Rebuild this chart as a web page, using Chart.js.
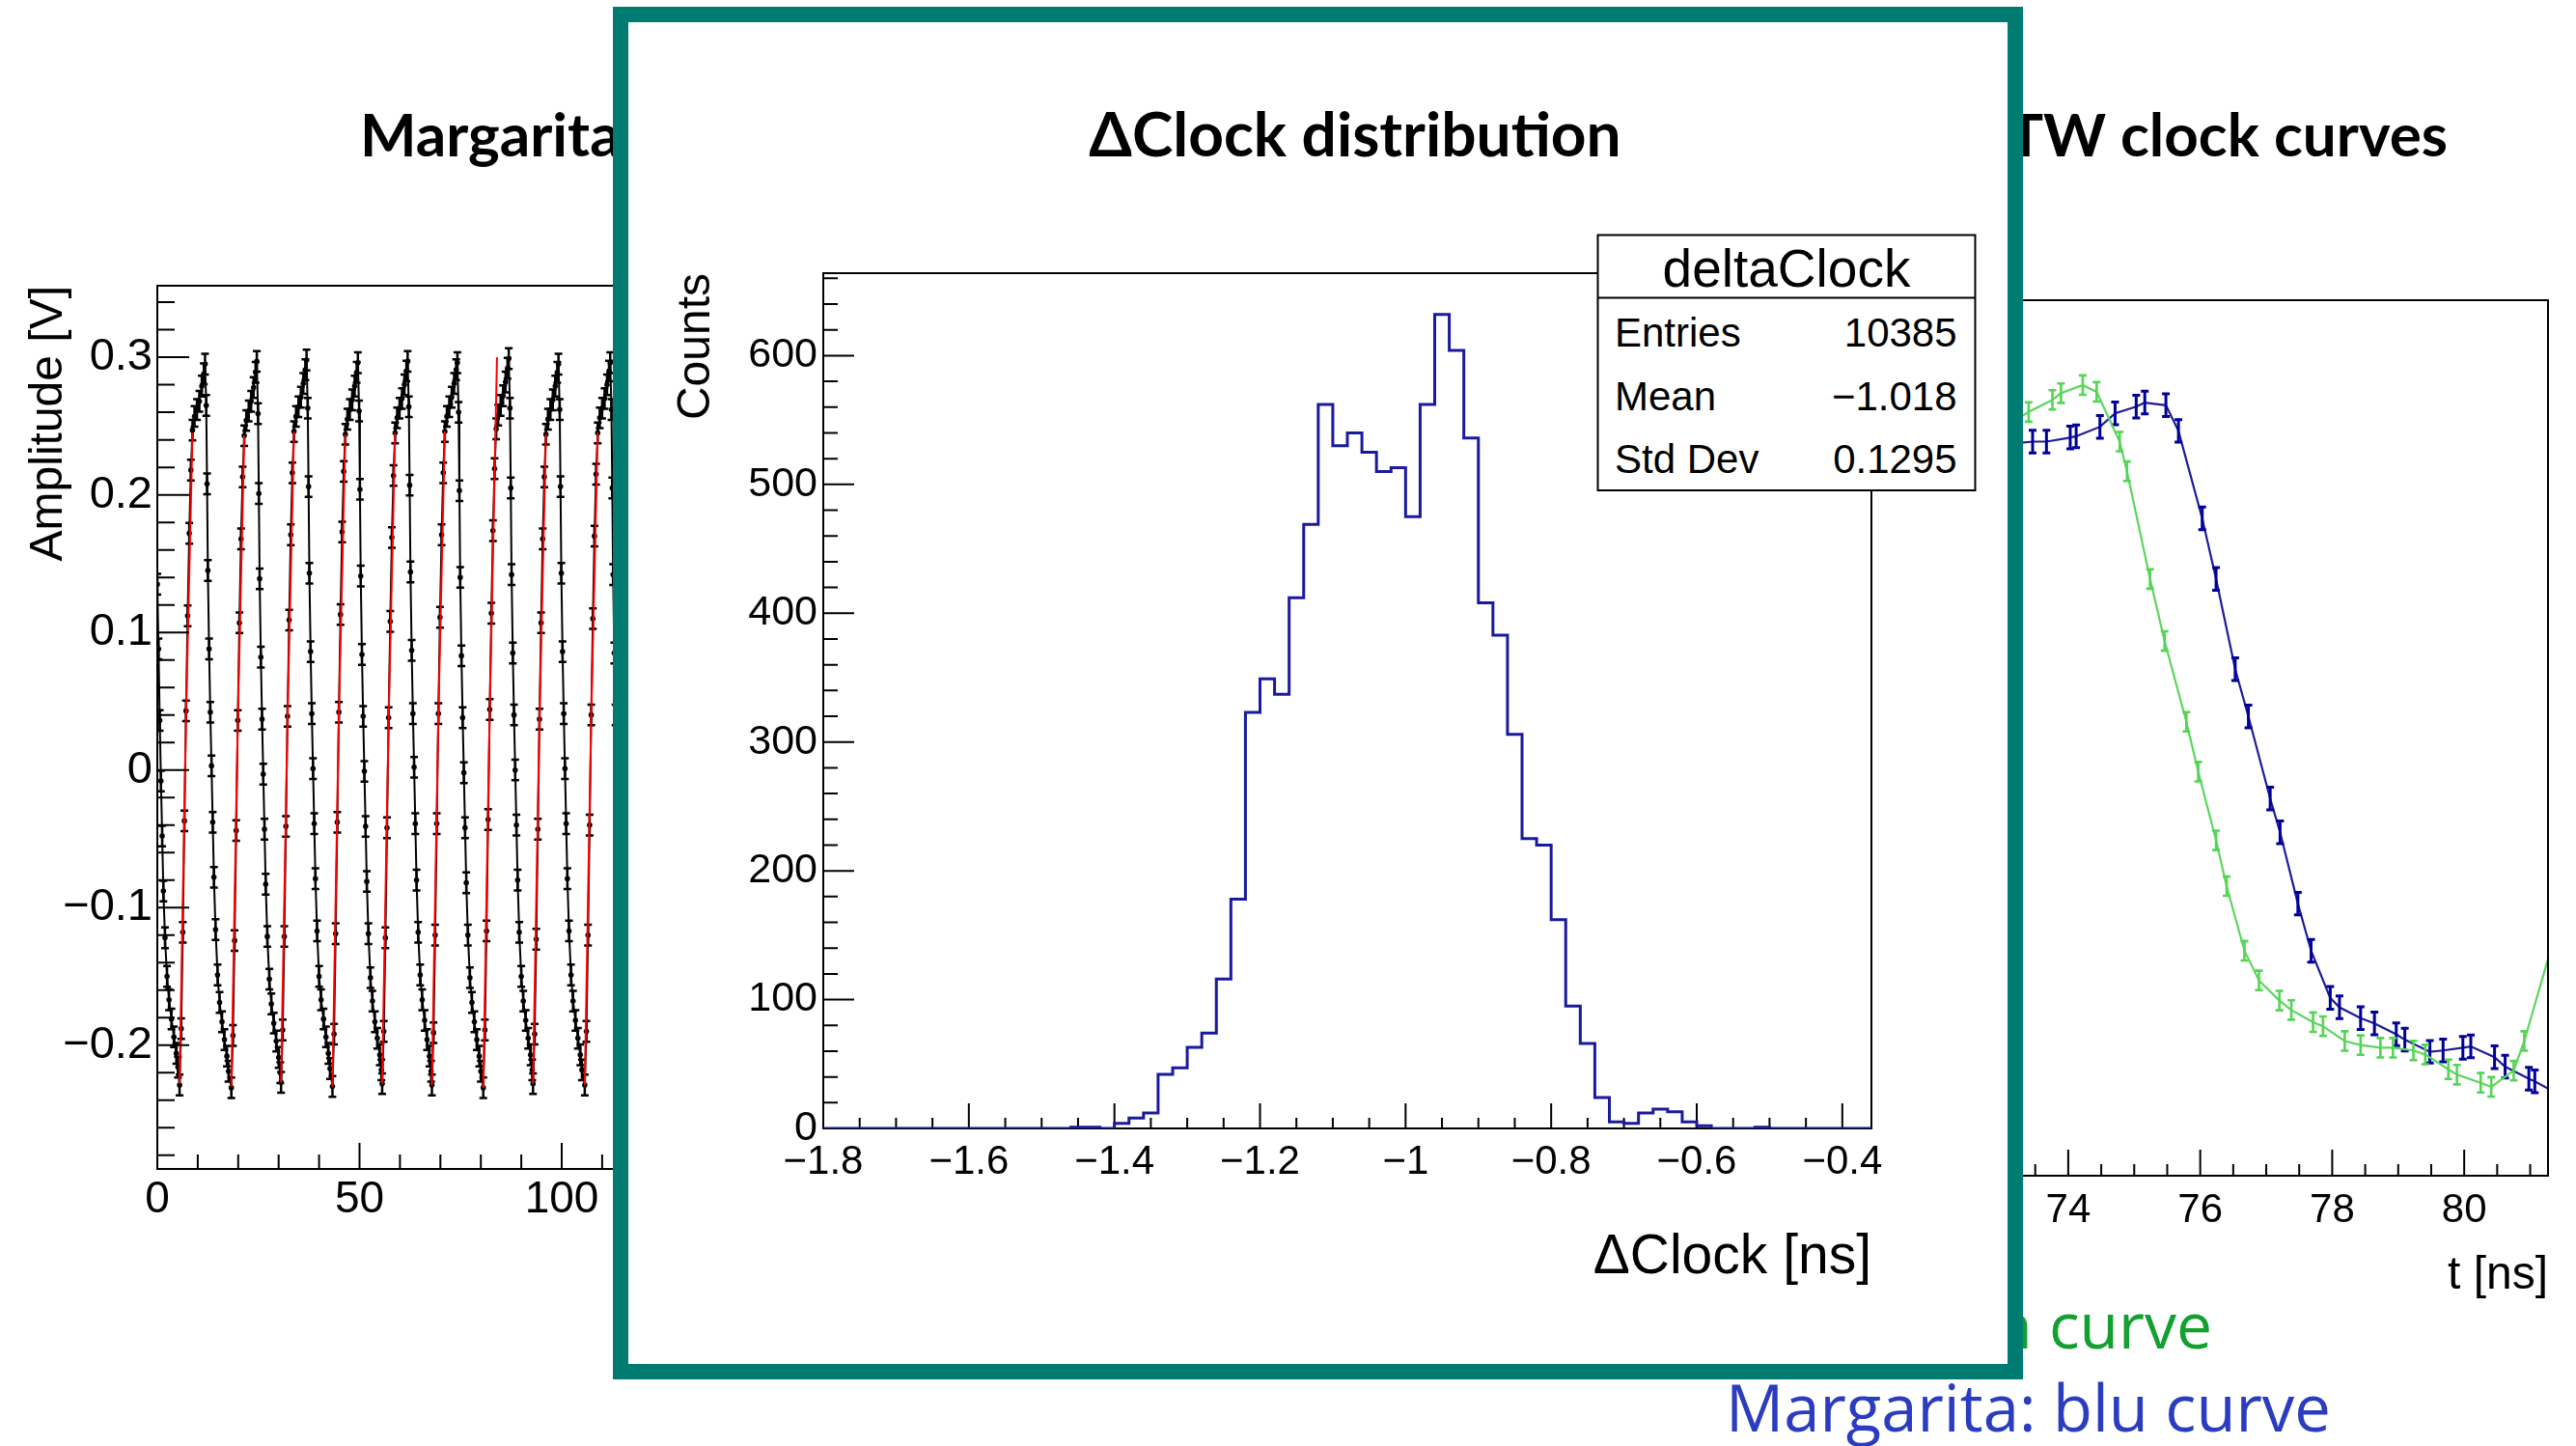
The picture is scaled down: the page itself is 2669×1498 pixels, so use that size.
<!DOCTYPE html>
<html>
<head>
<meta charset="utf-8">
<title>ΔClock distribution</title>
<script src="https://cdn.jsdelivr.net/npm/chart.js@4.4.1/dist/chart.umd.min.js"></script>
<style>
  html, body { margin:0; padding:0; background:#fff; }
  body { width:2669px; height:1498px; position:relative; overflow:hidden; }
  .abs { position:absolute; }
  #tealBox { left:635px; top:7px; width:1461px; height:1422px; box-sizing:border-box; border:16px solid #007B72; background:#fff; z-index:3; }
</style>
</head>
<body>
<svg class="abs" id="slideText" width="2669" height="1498" style="left:0;top:0;z-index:1">
  <text x="373" y="162" font-family="Lato, 'Open Sans', sans-serif" font-weight="700" font-size="62" fill="#000">Margarita</text>
  <text x="2536" y="162" text-anchor="end" font-family="Lato, 'Open Sans', sans-serif" font-weight="700" font-size="62" fill="#000">TW clock curves</text>
  <text x="2292" y="1397" text-anchor="end" font-family="'Open Sans', Lato, sans-serif" font-size="66" fill="#12a02e">green curve</text>
  <text x="1788" y="1483" font-family="'Open Sans', Lato, sans-serif" font-size="67" fill="#2a3cbf">Margarita: blu curve</text>
</svg>
<canvas class="abs" id="cLeft" width="1100" height="1330" style="left:0;top:0;z-index:2"></canvas>
<canvas class="abs" id="cRight" width="969" height="1498" style="left:1700px;top:0;z-index:2"></canvas>
<div class="abs" id="tealBox"></div>
<canvas class="abs" id="cCenter" width="1506" height="1390" style="left:651px;top:23px;z-index:4"></canvas>
<svg class="abs" id="statsBox" width="2669" height="1498" style="left:0;top:0;z-index:5"></svg>

<script>
// ======================= DATA =======================
// --- centre: ΔClock histogram (bins of 0.02 ns starting at -1.80) ---
const histMin = -1.8;
const histMax = -0.36;
const binWidth = 0.02;
const deltaClockCounts = [
  0, 0, 0, 0, 0, 0, 0, 0, 0, 0,               // -1.80 .. -1.62
  0, 0, 0, 0, 0, 0, 0, 1, 1, 0,               // -1.60 .. -1.42
  4, 8, 12, 42, 47, 63, 74, 116, 178, 323,    // -1.40 .. -1.22
  349, 337, 412, 469, 562, 530, 540, 525, 510, 513, // -1.20 .. -1.02
  475, 562, 632, 604, 536, 408, 383, 306, 225, 220, // -1.00 .. -0.82
  162, 95, 66, 24, 5, 4, 12, 15, 13, 5,       // -0.80 .. -0.62
  2, 0, 0, 0, 1, 0, 0, 0, 0, 0,               // -0.60 .. -0.42
  0, 0                                        // -0.40 .. -0.38
];
const centerXTicks = [-1.8, -1.6, -1.4, -1.2, -1.0, -0.8, -0.6, -0.4];
const centerYTicks = [0, 100, 200, 300, 400, 500, 600];
const statsTitle = 'deltaClock';
const statsLabels = ['Entries', 'Mean', 'Std Dev'];
const statsValues = ['10385', '\u22121.018', '0.1295'];

// --- left: Margarita clock waveform (t in ns, amplitude in V) ---
const waveHeadT = [0, 0.3, 0.6, 0.9, 1.2, 1.5, 1.9, 2.4, 2.9, 3.5, 4.1, 4.7, 5.1];
const waveHeadV = [0.135, 0.088, 0.036, -0.008, -0.048, -0.088, -0.122, -0.150, -0.167, -0.181, -0.194, -0.206, -0.216];
const waveRiseStart = [5.5, 18.3, 30.6, 43.3, 55.6, 67.9, 80.6, 92.9, 105.7];
const wavePhase = [0, 0.4, 0.8, 1.2, 1.6, 2.0, 2.4, 2.8, 3.2, 3.7, 4.3, 4.9, 5.5, 6.0, 6.3, 6.6, 6.8, 7.0, 7.3, 7.6, 7.9, 8.2, 8.5, 8.9, 9.4, 9.9, 10.5, 11.1, 11.7, 12.1];
const waveV = [
  [-0.229,-0.188,-0.118,-0.037,0.043,0.112,0.172,0.218,0.247,0.257,0.262,0.268,0.279,0.288,0.295,0.265,0.208,0.145,0.088,0.042,0.003,-0.038,-0.078,-0.116,-0.149,-0.169,-0.183,-0.196,-0.208,-0.219],
  [-0.231,-0.193,-0.124,-0.044,0.036,0.107,0.168,0.213,0.243,0.254,0.261,0.268,0.278,0.289,0.297,0.259,0.201,0.139,0.082,0.037,-0.003,-0.043,-0.083,-0.121,-0.152,-0.170,-0.184,-0.197,-0.209,-0.220],
  [-0.227,-0.189,-0.121,-0.041,0.039,0.109,0.171,0.216,0.246,0.257,0.264,0.271,0.281,0.291,0.298,0.263,0.206,0.143,0.086,0.041,0.001,-0.039,-0.079,-0.117,-0.150,-0.167,-0.181,-0.194,-0.206,-0.217],
  [-0.230,-0.192,-0.119,-0.038,0.042,0.113,0.173,0.217,0.244,0.255,0.262,0.269,0.279,0.289,0.296,0.261,0.204,0.141,0.084,0.039,-0.001,-0.041,-0.081,-0.119,-0.151,-0.168,-0.183,-0.195,-0.207,-0.218],
  [-0.228,-0.190,-0.122,-0.042,0.038,0.108,0.169,0.214,0.245,0.256,0.263,0.270,0.280,0.290,0.297,0.264,0.207,0.144,0.087,0.041,0.002,-0.039,-0.080,-0.118,-0.149,-0.167,-0.182,-0.196,-0.208,-0.219],
  [-0.229,-0.191,-0.120,-0.039,0.041,0.111,0.171,0.216,0.246,0.257,0.264,0.271,0.281,0.291,0.296,0.260,0.203,0.140,0.083,0.038,-0.002,-0.042,-0.082,-0.120,-0.151,-0.169,-0.183,-0.196,-0.208,-0.219],
  [-0.231,-0.189,-0.117,-0.036,0.044,0.114,0.174,0.219,0.248,0.258,0.265,0.272,0.282,0.292,0.299,0.263,0.205,0.142,0.085,0.040,0.000,-0.040,-0.080,-0.118,-0.150,-0.168,-0.182,-0.195,-0.207,-0.218],
  [-0.228,-0.192,-0.123,-0.043,0.037,0.107,0.168,0.213,0.244,0.255,0.262,0.269,0.279,0.289,0.295,0.262,0.206,0.143,0.086,0.041,0.001,-0.039,-0.079,-0.117,-0.149,-0.168,-0.182,-0.195,-0.207,-0.218],
  [-0.229,-0.190,-0.120,-0.040,0.040,0.110,0.170,0.215,0.245,0.256,0.263,0.270,0.280,0.290,0.296,0.262,0.205,0.142,0.085,0.040,0.000,-0.040,-0.080,-0.118,-0.150,-0.168,-0.182,-0.195,-0.207,-0.218]
];
const fitT = [[5.5,7.1,8.7],[18.3,19.9,21.5],[30.6,32.2,33.8],[43.3,44.9,46.5],[55.6,57.2,58.8],[67.9,69.5,71.1],[80.6,82.2,84.0],[92.9,94.5,96.1],[105.7,107.3,108.9]];
const fitV = [[-0.228,0.040,0.245],[-0.230,0.036,0.243],[-0.227,0.039,0.246],[-0.230,0.042,0.244],[-0.228,0.038,0.245],[-0.229,0.041,0.246],[-0.231,0.044,0.300],[-0.228,0.037,0.244],[-0.229,0.040,0.245]];
const leftXTicks = [0, 50, 100, 150, 200];
const leftYTicks = [-0.2, -0.1, 0, 0.1, 0.2, 0.3];

// --- right: TW clock curves ---
const blueT = [73.25,73.46,73.67,74.03,74.12,74.48,74.71,75.03,75.16,75.48,75.67,76.03,76.24,76.53,76.73,77.06,77.21,77.48,77.68,77.97,78.11,78.43,78.64,78.97,79.10,79.48,79.68,79.98,80.10,80.46,80.62,80.98,81.07,81.45];
const blueV = [0.244,0.245,0.245,0.248,0.249,0.256,0.266,0.271,0.274,0.272,0.253,0.188,0.143,0.076,0.041,-0.020,-0.045,-0.098,-0.133,-0.168,-0.175,-0.183,-0.187,-0.195,-0.199,-0.208,-0.207,-0.205,-0.204,-0.212,-0.219,-0.228,-0.230,-0.240];
const greenT = [73.10,73.40,73.76,73.89,74.22,74.43,74.78,74.89,75.24,75.46,75.79,75.97,76.24,76.40,76.67,76.89,77.20,77.38,77.71,77.86,78.19,78.43,78.73,78.92,79.23,79.41,79.76,79.89,80.25,80.41,80.75,80.91,81.56];
const greenV = [0.258,0.267,0.276,0.281,0.287,0.282,0.245,0.223,0.143,0.097,0.037,0.000,-0.051,-0.085,-0.133,-0.155,-0.170,-0.177,-0.186,-0.189,-0.200,-0.203,-0.205,-0.205,-0.207,-0.210,-0.221,-0.225,-0.231,-0.234,-0.222,-0.200,-0.090];
const rightXTicks = [72, 74, 76, 78, 80];

// ======================= HELPERS =======================
const AXFONT = "'Liberation Sans', Arial, Helvetica, sans-serif";
const fmt = v => String(Number(v.toFixed(3))).replace('-', '\u2212');
function stepValues(min, max, step) {
  const out = [];
  const n0 = Math.ceil(min / step - 1e-6), n1 = Math.floor(max / step + 1e-6);
  for (let n = n0; n <= n1; n++) out.push(n * step);
  return out;
}
function drawRootFrame(chart, o) {
  const {ctx, chartArea: a, scales: {x, y}} = chart;
  ctx.save();
  ctx.strokeStyle = '#000';
  ctx.lineWidth = 2;
  ctx.beginPath();
  ctx.rect(a.left, a.top, a.right - a.left, a.bottom - a.top);
  stepValues(x.min, x.max, o.xMinor).forEach(v => {
    const major = o.xMajor.some(m => Math.abs(m - v) < 1e-6);
    const px = x.getPixelForValue(v);
    ctx.moveTo(px, a.bottom);
    ctx.lineTo(px, a.bottom - (major ? o.xMajorLen : o.xMinorLen));
  });
  stepValues(y.min, y.max, o.yMinor).forEach(v => {
    const major = o.yMajor.some(m => Math.abs(m - v) < 1e-6);
    const py = y.getPixelForValue(v);
    ctx.moveTo(a.left, py);
    ctx.lineTo(a.left + (major ? o.yMajorLen : o.yMinorLen), py);
  });
  ctx.stroke();
  ctx.restore();
}
const rootFrame = {
  id: 'rootFrame',
  beforeDatasetsDraw(chart, args, o) { if (o.before) drawRootFrame(chart, o); },
  afterDatasetsDraw(chart, args, o) { if (!o.before) drawRootFrame(chart, o); }
};
const errorBars = {
  id: 'errorBars',
  afterDatasetDraw(chart, args) {
    const ds = chart.data.datasets[args.index];
    if (!ds.errY) return;
    const {ctx, chartArea: a} = chart;
    const ys = chart.scales[args.meta.yAxisID];
    ctx.save();
    ctx.beginPath();
    ctx.rect(a.left, a.top, a.right - a.left, a.bottom - a.top);
    ctx.clip();
    ctx.strokeStyle = ds.errColor;
    ctx.lineWidth = ds.errWidth;
    ctx.beginPath();
    args.meta.data.forEach((el, j) => {
      const v = ds.data[j].y;
      if (v == null) return;
      const y1 = ys.getPixelForValue(v - ds.errY), y2 = ys.getPixelForValue(v + ds.errY), xp = el.x;
      ctx.moveTo(xp, y1); ctx.lineTo(xp, y2);
      ctx.moveTo(xp - ds.errCap, y1); ctx.lineTo(xp + ds.errCap, y1);
      ctx.moveTo(xp - ds.errCap, y2); ctx.lineTo(xp + ds.errCap, y2);
    });
    ctx.stroke();
    ctx.restore();
  }
};
Chart.register(rootFrame, errorBars);
Chart.defaults.color = '#000';
Chart.defaults.font.family = AXFONT;

const noGrid = {display: false, drawTicks: false};
const noBorder = {display: false};
const basePlugins = {legend: {display: false}, tooltip: {enabled: false}};

// ======================= LEFT CHART =======================
const wavePts = [];
waveHeadT.forEach((t, i) => wavePts.push({x: t, y: waveHeadV[i]}));
waveRiseStart.forEach((r, k) => wavePhase.forEach((p, j) => wavePts.push({x: +(r + p).toFixed(2), y: waveV[k][j]})));
const fitPts = [];
fitT.forEach((seg, k) => {
  seg.forEach((t, j) => fitPts.push({x: t, y: fitV[k][j]}));
  fitPts.push({x: seg[seg.length - 1] + 0.1, y: null});
});

new Chart(document.getElementById('cLeft'), {
  type: 'line',
  data: {datasets: [
    {data: wavePts, borderColor: '#000', borderWidth: 2, pointRadius: 2.8, pointBackgroundColor: '#000', pointBorderWidth: 0,
     errY: 0.0075, errCap: 4, errWidth: 2.5, errColor: '#000', order: 2},
    {data: fitPts, borderColor: '#ff0000', borderWidth: 2, pointRadius: 0, spanGaps: false, order: 1}
  ]},
  options: {
    responsive: false, animation: false, devicePixelRatio: 1,
    layout: {padding: {left: 0, right: 99, top: 296, bottom: 0}},
    plugins: {...basePlugins,
      rootFrame: {before: false, xMajor: leftXTicks, xMinor: 10, xMajorLen: 27, xMinorLen: 15,
                  yMajor: leftYTicks, yMinor: 0.02, yMajorLen: 33, yMinorLen: 18}},
    scales: {
      x: {type: 'linear', min: 0, max: 200, grid: noGrid, border: noBorder,
          afterBuildTicks: s => { s.ticks = leftXTicks.map(v => ({value: v})); },
          afterFit: s => { s.height = 119; },
          ticks: {autoSkip: false, maxRotation: 0, padding: 9, font: {size: 46, lineHeight: 1}, callback: v => fmt(v)}},
      y: {min: -0.29, max: 0.352, grid: noGrid, border: noBorder,
          afterBuildTicks: s => { s.ticks = leftYTicks.map(v => ({value: v})); },
          afterFit: s => { s.width = 163; },
          ticks: {autoSkip: false, padding: 5, font: {size: 47, lineHeight: 1}, callback: v => fmt(v)},
          title: {display: true, text: 'Amplitude [V]', align: 'end', font: {size: 48, lineHeight: 1}, padding: {top: 27, bottom: 0}}}
    }
  }
});

// ======================= RIGHT CHART =======================
const bluePts = blueT.map((t, i) => ({x: t, y: blueV[i]}));
const greenPts = greenT.map((t, i) => ({x: t, y: greenV[i]}));
new Chart(document.getElementById('cRight'), {
  type: 'line',
  data: {datasets: [
    {label: 'Margarita', data: bluePts, borderColor: '#1c1c9c', borderWidth: 2.2, pointRadius: 0,
     errY: 0.0084, errCap: 4, errWidth: 3, errColor: '#000099', order: 2},
    {label: 'TW', data: greenPts, borderColor: '#5cd65c', borderWidth: 2.2, pointRadius: 0,
     errY: 0.0072, errCap: 4, errWidth: 2.6, errColor: '#55d455', order: 1}
  ]},
  options: {
    responsive: false, animation: false, devicePixelRatio: 1,
    layout: {padding: {left: 203.6, right: 29, top: 311, bottom: 80}},
    plugins: {...basePlugins,
      rootFrame: {before: false, xMajor: rightXTicks, xMinor: 0.5, xMajorLen: 27, xMinorLen: 12,
                  yMajor: [-0.2, -0.1, 0, 0.1, 0.2, 0.3], yMinor: 0.02, yMajorLen: 30, yMinorLen: 15}},
    scales: {
      x: {type: 'linear', min: 70.5, max: 81.27, grid: noGrid, border: noBorder,
          afterBuildTicks: s => { s.ticks = rightXTicks.map(v => ({value: v})); },
          afterFit: s => { s.height = 200; },
          ticks: {autoSkip: false, maxRotation: 0, padding: 15, font: {size: 42, lineHeight: 1}, callback: v => fmt(v)},
          title: {display: true, text: 't [ns]', align: 'end', font: {size: 48, lineHeight: 1}, padding: {top: 0, bottom: 72}}},
      y: {display: false, min: -0.3, max: 0.35}
    }
  }
});

// ======================= CENTRE CHART =======================
const histPts = deltaClockCounts.map((c, i) => ({x: histMin + i * binWidth, y: c}));
histPts.push({x: histMax, y: 0});
new Chart(document.getElementById('cCenter'), {
  type: 'line',
  data: {datasets: [
    {label: 'deltaClock', data: histPts, stepped: true, borderColor: '#1a1a9e', borderWidth: 3, pointRadius: 0, fill: false}
  ]},
  options: {
    responsive: false, animation: false, devicePixelRatio: 1,
    layout: {padding: 0},
    plugins: {...basePlugins,
      title: {display: true, text: '\u0394Clock distribution', color: '#000',
              font: {family: "Lato, 'Liberation Sans', sans-serif", weight: 'bold', size: 64, lineHeight: 1.2},
              padding: {top: 80, bottom: 103.2}},
      rootFrame: {before: true, xMajor: centerXTicks, xMinor: 0.05, xMajorLen: 26, xMinorLen: 11,
                  yMajor: centerYTicks, yMinor: 20, yMajorLen: 32, yMinorLen: 15}},
    scales: {
      x: {type: 'linear', min: histMin, max: histMax, grid: noGrid, border: noBorder,
          afterBuildTicks: s => { s.ticks = centerXTicks.map(v => ({value: v})); },
          afterFit: s => { s.height = 244; },
          ticks: {autoSkip: false, maxRotation: 0, padding: 14, font: {size: 42, lineHeight: 1}, callback: v => fmt(v)},
          title: {display: true, text: '\u0394Clock [ns]', align: 'end', font: {size: 57, lineHeight: 1}, padding: {top: 0, bottom: 81}}},
      y: {min: 0, max: 664, grid: noGrid, border: noBorder,
          afterBuildTicks: s => { s.ticks = centerYTicks.map(v => ({value: v})); },
          afterFit: s => { s.width = 202; },
          ticks: {autoSkip: false, padding: 6, font: {size: 43, lineHeight: 1}, callback: v => fmt(v)},
          title: {display: true, text: 'Counts', align: 'end', font: {size: 48, lineHeight: 1}, padding: {top: 47, bottom: 0}}},
      y2: {position: 'right', display: true, grid: noGrid, border: noBorder, ticks: {display: false},
           afterFit: s => { s.width = 218; }}
    }
  }
});

// ======================= STATS BOX =======================
(function () {
  const svg = document.getElementById('statsBox');
  const rowY = [359, 425, 490];
  let html = '<rect x="1655.5" y="243.5" width="391" height="264.5" fill="#fff" stroke="#000" stroke-width="2"/>' +
             '<line x1="1655.5" y1="308.6" x2="2046.5" y2="308.6" stroke="#000" stroke-width="2"/>' +
             '<text x="1851" y="296.5" text-anchor="middle" font-family="' + AXFONT + '" font-size="55" fill="#000">' + statsTitle + '</text>';
  statsLabels.forEach((lab, i) => {
    html += '<text x="1673" y="' + rowY[i] + '" font-family="' + AXFONT + '" font-size="42" fill="#000">' + lab + '</text>';
    html += '<text x="2027.6" y="' + rowY[i] + '" text-anchor="end" font-family="' + AXFONT + '" font-size="42" fill="#000">' + statsValues[i] + '</text>';
  });
  svg.innerHTML = html;
})();
</script>
</body>
</html>
